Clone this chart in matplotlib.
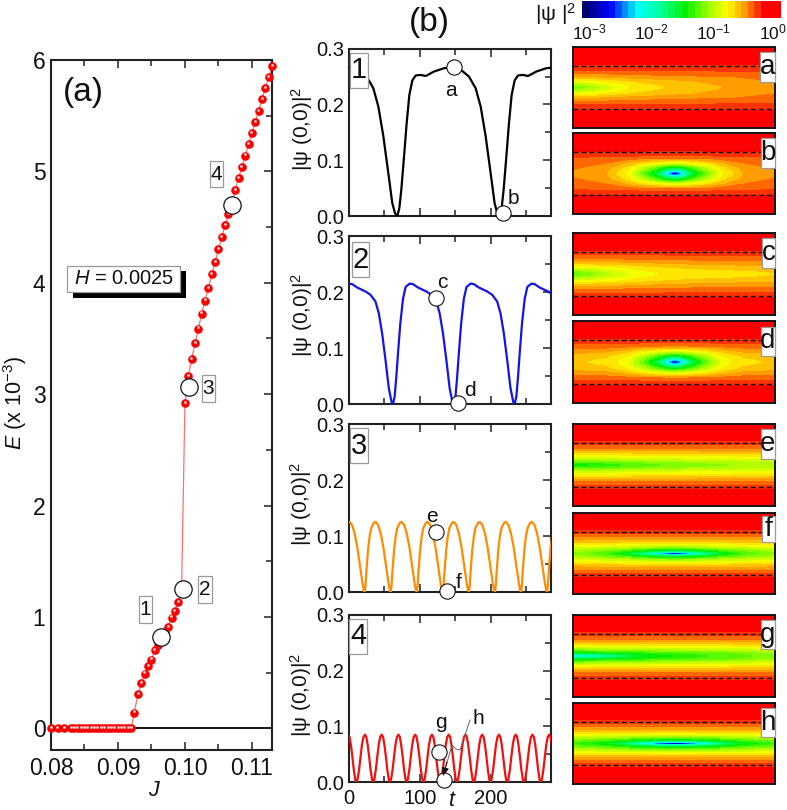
import numpy as np
import matplotlib
matplotlib.use("Agg")
import matplotlib.pyplot as plt
from matplotlib.colors import LinearSegmentedColormap, BoundaryNorm
from matplotlib.patches import Rectangle
from matplotlib.lines import Line2D
from matplotlib.transforms import ScaledTranslation

plt.rcParams['font.family'] = ['Liberation Sans', 'DejaVu Sans']
plt.rcParams['mathtext.fontset'] = 'custom'
plt.rcParams['mathtext.rm'] = 'Liberation Sans'
plt.rcParams['mathtext.it'] = 'Liberation Sans:italic'
plt.rcParams['mathtext.bf'] = 'Liberation Sans:bold'

W, H = 787, 810

# ---------- panel (a) data ----------
J_zero = [0.080, 0.081, 0.082, 0.083, 0.0835, 0.084, 0.0845, 0.085, 0.0855, 0.086, 0.0865,
          0.087, 0.0875, 0.088, 0.0885, 0.089, 0.0895, 0.090, 0.0905, 0.091, 0.0915, 0.092]
E_zero = [0.0] * len(J_zero)
J_low = [0.0924, 0.0930, 0.0935, 0.0940, 0.0945, 0.0950, 0.0955, 0.0960, 0.0965, 0.0970,
         0.0975, 0.0980, 0.0985, 0.0990, 0.0995]
E_low = [0.14, 0.305, 0.404, 0.49, 0.56, 0.616, 0.703, 0.75, 0.82, 0.865,
         0.91, 0.993, 1.053, 1.131, 1.25]
J_high = [0.1000, 0.1005, 0.1010, 0.1015, 0.1020, 0.1025, 0.1030, 0.1035, 0.1040, 0.1045,
          0.1050, 0.1055, 0.1060, 0.1065, 0.1070, 0.1075, 0.1080, 0.1085, 0.1090, 0.1095,
          0.1100, 0.1105, 0.1110, 0.1115, 0.1120, 0.1125, 0.1130]
E_high = [2.917, 3.163, 3.315, 3.456, 3.588, 3.722, 3.839, 3.953, 4.075, 4.186,
          4.30, 4.407, 4.518, 4.614, 4.72, 4.83, 4.937, 5.036, 5.141, 5.242,
          5.341, 5.443, 5.544, 5.646, 5.748, 5.843, 5.945]
J_open = [0.0965, 0.0997, 0.1006, 0.1070]
E_open = [0.817, 1.25, 3.067, 4.70]
J_tick_labels = ['0.08', '0.09', '0.10', '0.11']

# ---------- panel (b) data: one measured cycle of each periodic trace ----------
cycle1_t = [0, 2.8, 5.6, 9.4, 13.1, 16.9, 21.1, 25.8, 32.9, 39.9, 51.6, 65.7, 79.8, 91.5,
            100.9, 110.3, 117.4, 124.4, 131.5, 137, 140.8, 144.1]
cycle1_v = [0, .014, .047, .106, .166, .217, .243, .252, .253, .251, .259, .265, .267, .260,
            .250, .229, .196, .143, .076, .023, .005, 0]
cycle2_t = [0, 2.3, 4.7, 7, 10.3, 14.1, 17.8, 23.5, 28.2, 35.2, 46.9, 54, 61, 65.7, 70.4,
            75.1, 79.8, 83.6, 85.7]
cycle2_v = [0, .013, .049, .090, .144, .188, .209, .215, .214, .208, .201, .195, .183, .162,
            .126, .079, .028, .004, 0]
cycle3_t = [0, 1.2, 2.3, 4.7, 7, 9.4, 13.1, 15.5, 18.8, 22.5, 26.3, 30, 33.8, 35.6, 36.7]
cycle3_v = [0, .012, .035, .075, .100, .115, .124, .125, .120, .105, .080, .048, .014, .003, 0]
cycle4_t = [0, 1, 2, 4, 6, 8, 10, 12, 14, 16, 18, 20, 22, 23, 23.6]
cycle4_v = [0, .002, .007, .024, .047, .068, .081, .085, .081, .066, .045, .022, .005, .001, 0]
first_dip = [68.5 - 144.1, 62.4 - 85.7, 22.5 - 36.7, 10.8 - 23.6]
trace_colors = ['black', '#1414e6', '#ff8c00', '#f01010']
open_t = [[148.4, 217.4], [123.5, 153.5], [122.5, 138.0], [127.0, 133.8]]
open_v = [[.268, .005], [.19, .002], [.107, .002], [.054, .003]]

# ---------- heat maps: log10 |psi|^2, rows = distance from mid-line ----------
row_off = [0, .015, .04, .08, .13, .2, .27, .34, .5]
col_edge = [0, .07, .14, .21, .3, .45, .6, .8, 1]          # from the left edge
col_mid = [0, .015, .045, .08, .16, .23, .34, .52]         # from the vortex centre

field_a = [[-1.2, -1.12, -1.0, -.9, -.78, -.7, -.65, -.58, -.52],
           [-1.18, -1.1, -.99, -.89, -.77, -.7, -.65, -.58, -.52],
           [-1.08, -1.02, -.93, -.85, -.75, -.68, -.63, -.57, -.52],
           [-.86, -.83, -.79, -.75, -.69, -.64, -.6, -.55, -.5],
           [-.62, -.61, -.6, -.58, -.56, -.54, -.52, -.5, -.47],
           [-.42, -.42, -.42, -.42, -.41, -.41, -.41, -.4, -.4],
           [-.32, -.32, -.32, -.32, -.32, -.32, -.32, -.32, -.32],
           [-.2, -.2, -.2, -.2, -.2, -.2, -.2, -.2, -.2],
           [-.05, -.05, -.05, -.05, -.05, -.05, -.05, -.05, -.05]]
field_c = [[-1.25, -1.18, -1.08, -.98, -.88, -.78, -.74, -.72, -.7],
           [-1.23, -1.16, -1.07, -.97, -.87, -.78, -.74, -.72, -.7],
           [-1.12, -1.07, -1.0, -.92, -.84, -.76, -.73, -.71, -.69],
           [-.92, -.9, -.86, -.82, -.77, -.71, -.68, -.66, -.65],
           [-.68, -.67, -.66, -.65, -.63, -.6, -.58, -.56, -.55],
           [-.46, -.46, -.46, -.46, -.45, -.45, -.44, -.44, -.43],
           [-.34, -.34, -.34, -.34, -.34, -.34, -.33, -.33, -.33],
           [-.2, -.2, -.2, -.2, -.2, -.2, -.2, -.2, -.2],
           [-.05, -.05, -.05, -.05, -.05, -.05, -.05, -.05, -.05]]
field_e = [[-1.45, -1.42, -1.38, -1.33, -1.28, -1.2, -1.15, -1.1, -1.05],
           [-1.42, -1.4, -1.36, -1.31, -1.26, -1.19, -1.14, -1.09, -1.04],
           [-1.25, -1.24, -1.22, -1.2, -1.16, -1.12, -1.08, -1.04, -1.0],
           [-1.0, -1.0, -.99, -.97, -.95, -.93, -.91, -.9, -.88],
           [-.78, -.78, -.77, -.77, -.76, -.75, -.74, -.73, -.72],
           [-.5, -.5, -.5, -.5, -.5, -.5, -.5, -.5, -.5],
           [-.35, -.35, -.35, -.35, -.35, -.35, -.35, -.35, -.35],
           [-.2, -.2, -.2, -.2, -.2, -.2, -.2, -.2, -.2],
           [-.05, -.05, -.05, -.05, -.05, -.05, -.05, -.05, -.05]]
field_g = [[-2.5, -2.2, -2.0, -1.8, -1.6, -1.45, -1.35, -1.25, -1.15],
           [-1.95, -1.9, -1.8, -1.7, -1.55, -1.42, -1.33, -1.24, -1.14],
           [-1.55, -1.52, -1.48, -1.45, -1.4, -1.32, -1.26, -1.2, -1.1],
           [-1.15, -1.13, -1.12, -1.1, -1.08, -1.05, -1.02, -1.0, -.95],
           [-.82, -.82, -.81, -.8, -.79, -.78, -.77, -.76, -.75],
           [-.5, -.5, -.5, -.5, -.5, -.5, -.5, -.5, -.5],
           [-.35, -.35, -.35, -.35, -.35, -.35, -.35, -.35, -.35],
           [-.2, -.2, -.2, -.2, -.2, -.2, -.2, -.2, -.2],
           [-.05, -.05, -.05, -.05, -.05, -.05, -.05, -.05, -.05]]
field_b = [[-3, -2.6, -2.1, -1.65, -1.2, -.83, -.6, -.5],
           [-2.5, -2.4, -2.05, -1.62, -1.18, -.82, -.6, -.5],
           [-2.0, -1.95, -1.8, -1.5, -1.1, -.8, -.58, -.5],
           [-1.5, -1.48, -1.4, -1.25, -.98, -.74, -.55, -.47],
           [-.92, -.9, -.88, -.84, -.74, -.62, -.5, -.45],
           [-.44, -.44, -.44, -.44, -.43, -.42, -.41, -.4],
           [-.32, -.32, -.32, -.32, -.31, -.31, -.31, -.31],
           [-.2, -.2, -.2, -.2, -.2, -.2, -.2, -.2],
           [-.05, -.05, -.05, -.05, -.05, -.05, -.05, -.05]]
field_d = [[-3, -2.6, -2.1, -1.7, -1.22, -.88, -.72, -.68],
           [-2.5, -2.4, -2.05, -1.67, -1.2, -.87, -.72, -.68],
           [-2.0, -1.95, -1.8, -1.52, -1.12, -.85, -.71, -.67],
           [-1.5, -1.48, -1.4, -1.28, -1.02, -.8, -.68, -.64],
           [-.95, -.94, -.92, -.88, -.8, -.68, -.58, -.55],
           [-.47, -.47, -.47, -.47, -.46, -.45, -.44, -.43],
           [-.33, -.33, -.33, -.33, -.33, -.33, -.33, -.33],
           [-.2, -.2, -.2, -.2, -.2, -.2, -.2, -.2],
           [-.05, -.05, -.05, -.05, -.05, -.05, -.05, -.05]]
field_f = [[-3, -2.85, -2.6, -2.35, -1.85, -1.55, -1.3, -1.1],
           [-2.1, -2.08, -2.02, -1.95, -1.7, -1.5, -1.27, -1.09],
           [-1.55, -1.55, -1.53, -1.5, -1.42, -1.3, -1.18, -1.04],
           [-1.12, -1.12, -1.1, -1.1, -1.05, -1.0, -.97, -.9],
           [-.78, -.78, -.77, -.77, -.76, -.75, -.73, -.7],
           [-.5, -.5, -.5, -.5, -.5, -.5, -.5, -.5],
           [-.35, -.35, -.35, -.35, -.35, -.35, -.35, -.35],
           [-.2, -.2, -.2, -.2, -.2, -.2, -.2, -.2],
           [-.05, -.05, -.05, -.05, -.05, -.05, -.05, -.05]]
field_h = [[-3, -2.95, -2.8, -2.6, -2.15, -1.8, -1.5, -1.3],
           [-2.15, -2.12, -2.1, -2.05, -1.9, -1.68, -1.45, -1.27],
           [-1.6, -1.6, -1.58, -1.57, -1.5, -1.42, -1.3, -1.18],
           [-1.15, -1.15, -1.14, -1.14, -1.12, -1.1, -1.05, -1.0],
           [-.8, -.8, -.8, -.8, -.79, -.78, -.77, -.75],
           [-.5, -.5, -.5, -.5, -.5, -.5, -.5, -.5],
           [-.35, -.35, -.35, -.35, -.35, -.35, -.35, -.35],
           [-.2, -.2, -.2, -.2, -.2, -.2, -.2, -.2],
           [-.05, -.05, -.05, -.05, -.05, -.05, -.05, -.05]]
heat_letters = list('abcdefgh')
heat_fields = [field_a, field_b, field_c, field_d, field_e, field_f, field_g, field_h]
dash_off = 0.268
log_levels = np.linspace(-3, 0, 31)

# ---------- helpers ----------
fig = plt.figure(figsize=(W / 100, H / 100), dpi=100, facecolor='white')


def fx(x):
    return x / W


def fy(y):
    return 1 - y / H


def axes_px(x0, y0, x1, y1):
    return fig.add_axes([fx(x0), fy(y1), (x1 - x0) / W, (y1 - y0) / H])


def box_label(x0, y0, x1, y1, s, size):
    fig.add_artist(Rectangle((fx(x0), fy(y1)), (x1 - x0) / W, (y1 - y0) / H, transform=fig.transFigure,
                             fc='white', ec='#9a9a9a', lw=0.9, zorder=20))
    fig.text(fx((x0 + x1) / 2), fy((y0 + y1) / 2), s, ha='center', va='center', fontsize=size,
             color='#111111', zorder=21)


def label(x, y, s, size=13.5, **kw):
    fig.text(fx(x), fy(y), s, ha='center', va='center', fontsize=size, color='#111111', **kw)


def style(ax, fs, ypad, xpad):
    for s in ax.spines.values():
        s.set_linewidth(1.5)
        s.set_color('#222222')
    ax.tick_params(which='both', direction='in', top=True, right=True, left=False, colors='#222222',
                   labelcolor='#111111', width=1.1)
    ax.tick_params(which='major', length=6, labelsize=fs)
    ax.tick_params(which='minor', length=4)
    ax.tick_params(axis='y', which='major', pad=ypad)
    ax.tick_params(axis='x', which='major', pad=xpad)


cmap = LinearSegmentedColormap.from_list('psi', [
    (0.0, '#000070'), (0.03, '#000090'), (0.13, '#0000ff'), (0.27, '#00ffff'), (0.40, '#00ff90'),
    (0.52, '#00f000'), (0.65, '#aaff00'), (0.735, '#ffff00'), (0.83, '#ff9900'), (0.93, '#ff0000'),
    (1.0, '#ff0000')], N=30)
norm = BoundaryNorm(log_levels, cmap.N)

# ---------- panel (a) ----------
ax = axes_px(51, 60, 272, 750)
style(ax, 16.5, 4, 5)
ax.set_xlim(0.08, 0.113)
ax.set_ylim(-0.195, 6)
ax.set_xticks([0.08, 0.09, 0.10, 0.11])
ax.set_xticklabels(J_tick_labels)
ax.set_xticks([0.085, 0.095, 0.105], minor=True)
ax.set_yticks(range(7))
ax.set_yticks(np.arange(0.5, 6, 1), minor=True)
ax.plot([J_zero[-1], 0.113], [0, 0], color='#111111', lw=1.4, zorder=1)
J_all = J_zero + J_low + J_high
E_all = E_zero + E_low + E_high
ax.plot(J_all, E_all, color='#ff7070', lw=0.9, zorder=2)
ax.plot(J_all, E_all, ls='none', marker='o', ms=6.2, mfc='#fb0000', mec='none', zorder=3, clip_on=False)
hl = ax.transData + ScaledTranslation(-0.3 / 72, 0.9 / 72, fig.dpi_scale_trans)
ax.plot(J_all, E_all, ls='none', marker='o', ms=2.0, mfc='#ffd0d0', mec='none', zorder=4, transform=hl, clip_on=False)
ax.plot(J_open, E_open, ls='none', marker='o', ms=12.5, mfc='white', mec='#111111', mew=0.9, zorder=6, clip_on=False)

label(83, 93, '(a)', 24)
label(153, 790, 'J', 15.5, style='italic')
fig.text(fx(15), fy(403), r'$\mathit{E}$ (x 10$^{-3}$)', rotation=90, ha='center', va='center', fontsize=15.5, color='#111111')
box_label(139, 596, 152, 623, '1', 15)
box_label(198, 576, 212, 603, '2', 15)
box_label(202, 375, 215, 402, '3', 15)
box_label(210, 161, 223, 187, '4', 15)
fig.add_artist(Rectangle((fx(73), fy(298)), 113 / W, 27 / H, transform=fig.transFigure, fc='black', ec='none', zorder=18))
fig.add_artist(Rectangle((fx(67), fy(292)), 113 / W, 26 / H, transform=fig.transFigure, fc='white', ec='#9a9a9a', lw=0.9, zorder=19))
fig.text(fx(124), fy(279), r'$\mathit{H}$ = 0.0025', ha='center', va='center', fontsize=14.5, color='#111111', zorder=20)

# ---------- panel (b) traces ----------
trace_boxes = [(348.7, 48.7, 550.7, 216), (348.7, 236, 550.7, 404), (348.7, 424, 550.7, 592), (348.7, 615, 550.7, 782)]
cycles = [(cycle1_t, cycle1_v), (cycle2_t, cycle2_v), (cycle3_t, cycle3_v), (cycle4_t, cycle4_v)]
tag_boxes = [(350, 53, 368, 88), (352, 242, 369, 277), (350, 428, 368, 463), (349, 619, 367, 654)]
ylabel_pos = [(302, 129), (302, 315), (301, 504), (301, 695)]
for i, b in enumerate(trace_boxes):
    ax = axes_px(*b)
    style(ax, 14.5, 3, 5)
    ax.set_xlim(0, 284.5)
    ax.set_ylim(0, 0.3)
    ax.set_xticks([0, 100, 200])
    ax.set_xticks([50, 150, 250], minor=True)
    ax.set_yticks([0, 0.1, 0.2, 0.3])
    ax.set_yticks([0.05, 0.15, 0.25], minor=True)
    ax.set_yticklabels(['0.0', '0.1', '0.2', '0.3'])
    if i < 3:
        ax.set_xticklabels([])
    ct, cv = np.array(cycles[i][0]), np.array(cycles[i][1])
    period = ct[-1]
    n = int(300 / period) + 2
    t = np.concatenate([first_dip[i] + k * period + ct[:-1] for k in range(n)])
    v = np.tile(cv[:-1], n)
    ax.plot(t, v, color=trace_colors[i], lw=1.6, solid_joinstyle='round', zorder=3)
    ax.plot(open_t[i], open_v[i], ls='none', marker='o', ms=11, mfc='white', mec='#111111', mew=0.8,
            zorder=6, clip_on=False)
    box_label(*tag_boxes[i], str(i + 1), 21)
    fig.text(fx(ylabel_pos[i][0]), fy(ylabel_pos[i][1]), '|\u03c8 (0,0)|$^{2}$', rotation=90,
             ha='center', va='center', fontsize=15, color='#111111')

label(429, 22, '(b)', 24)
label(451, 800, 't', 15.5, style='italic')
for s, x, y in [('a', 451, 91), ('b', 513, 198), ('c', 442, 283), ('d', 470, 391),
                ('e', 432, 517), ('f', 459, 582), ('g', 441, 723), ('h', 478, 718)]:
    label(x, y, s, 15)
fig.add_artist(Line2D([fx(470), fx(460), fx(456), fx(452), fx(446)], [fy(720), fy(750), fy(749), fy(745), fy(766)],
                      transform=fig.transFigure, color='#666666', lw=0.7, zorder=9))
ann = fig.add_axes([0, 0, 1, 1], facecolor='none', zorder=10)
ann.axis('off')
ann.set_xlim(0, W)
ann.set_ylim(H, 0)
ann.annotate('', xy=(443, 776), xytext=(447, 762),
             arrowprops=dict(arrowstyle='-|>,head_width=0.22,head_length=0.5', color='#111111', lw=0.7,
                             shrinkA=0, shrinkB=0))

# ---------- heat maps ----------
heat_boxes = [(47, 128), (133, 214), (233, 315), (321, 403), (424, 506), (513, 594), (615, 697), (703, 784)]
letter_boxes = [(760, 52, 775, 82), (761, 138, 775, 168), (762, 238, 775, 268), (761, 327, 775, 356),
                (761, 429, 775, 459), (762, 516, 775, 542), (761, 620, 775, 649), (761, 708, 775, 737)]
y_half = np.array(row_off)
y_grid = np.concatenate([-y_half[:0:-1], y_half])
for i, (top, bot) in enumerate(heat_boxes):
    ax = axes_px(572.7, top, 775, bot)
    half = np.array(heat_fields[i], dtype=float)
    if i % 2 == 0:
        x_grid = np.array(col_edge)
        cols = half
    else:
        d = np.array(col_mid)
        x_grid = np.concatenate([0.505 - d[:0:-1], 0.505 + d])
        cols = np.hstack([half[:, :0:-1], half])
    z = np.vstack([cols[:0:-1], cols])
    ax.contourf(x_grid, y_grid, z, levels=log_levels, cmap=cmap, norm=norm, extend='both')
    ax.set_xlim(0, 1)
    ax.set_ylim(-0.5, 0.5)
    ax.set_xticks([])
    ax.set_yticks([])
    for s in ax.spines.values():
        s.set_linewidth(1.4)
        s.set_color('#151515')
    for yy in (-dash_off, dash_off):
        ax.plot([0, 1], [yy, yy], color='#111111', lw=1.0, dashes=(3.6, 2.2))
    box_label(*letter_boxes[i], heat_letters[i], 20)

# ---------- colour bar ----------
cax = axes_px(582, 1, 781, 18)
mids = 0.5 * (log_levels[:-1] + log_levels[1:])
cax.pcolormesh(log_levels, [0, 1], mids[np.newaxis, :], cmap=cmap, norm=norm)
cax.axis('off')
for s, x in [('10$^{-3}$', 589), ('10$^{-2}$', 651), ('10$^{-1}$', 713), ('10$^{0}$', 773)]:
    label(x, 32, s, 12.5)
label(556, 14, '|\u03c8 |$^{2}$', 15)

fig.savefig('out.png', dpi=100)
